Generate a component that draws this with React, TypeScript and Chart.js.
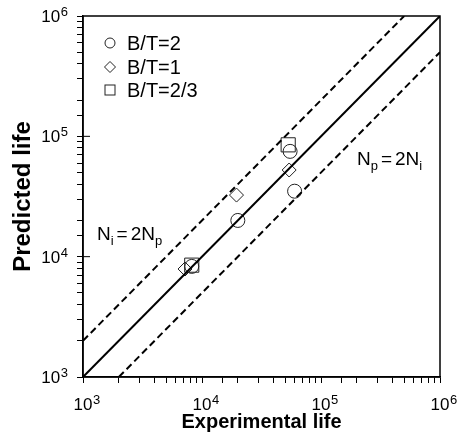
import React, { useEffect, useRef } from "react";
import { Chart, registerables } from "chart.js";

Chart.register(...registerables);

// ---- data ----
const circleX = [20000, 55000, 60000, 8200];
const circleY = [20000, 75000, 35000, 8300];
const diamondX = [7200, 19500, 54000];
const diamondY = [7900, 32500, 52500];
const squareX = [8200, 53000];
const squareY = [8500, 85000];
const seriesNames = ["B/T=2", "B/T=1", "B/T=2/3"];
const axisMin = 1000;
const axisMax = 1000000;
const tickBase = "10";
const tickExponents = [3, 4, 5, 6];
const tickLabels = ["3", "4", "5", "6"];
const xTitle = "Experimental life";
const yTitle = "Predicted life";
const noteLeft: [string, boolean][] = [["N", false], ["i", true], ["=", false], ["2N", false], ["p", true]];
const noteRight: [string, boolean][] = [["N", false], ["p", true], ["=", false], ["2N", false], ["i", true]];

const FONT = "'Liberation Sans', Arial, sans-serif";

function pts(xs: number[], ys: number[]) {
  return xs.map((x, i) => ({ x, y: ys[i] }));
}

const overlayPlugin = {
  id: "overlay",
  afterDraw(chart: any) {
    const { ctx, chartArea } = chart;
    const { left, top, right, bottom } = chartArea;
    const xs = chart.scales.x;
    const ys = chart.scales.y;
    ctx.save();
    // frame
    ctx.strokeStyle = "#000";
    ctx.lineWidth = 1.5;
    ctx.strokeRect(left, top, right - left, bottom - top);

    // tick labels
    ctx.fillStyle = "#000";
    tickExponents.forEach((e, i) => {
      const v = Math.pow(10, e);
      // x axis
      const px = xs.getPixelForValue(v);
      ctx.font = `17px ${FONT}`;
      ctx.textBaseline = "alphabetic";
      ctx.textAlign = "center";
      ctx.fillText(tickBase, px, bottom + 33);
      const bw = ctx.measureText(tickBase).width;
      ctx.font = `13px ${FONT}`;
      ctx.textAlign = "left";
      ctx.fillText(tickLabels[i], px + bw / 2 + 0.5, bottom + 27);
      // y axis
      const py = ys.getPixelForValue(v);
      ctx.font = `13px ${FONT}`;
      const sw = ctx.measureText(tickLabels[i]).width;
      const rx = left - 15;
      ctx.textAlign = "right";
      ctx.fillText(tickLabels[i], rx, py);
      ctx.font = `17px ${FONT}`;
      ctx.fillText(tickBase, rx - sw - 0.5, py + 6);
      // inward major tick on y axis
      if (e > 3 && e < 6) {
        ctx.lineWidth = 1;
        ctx.beginPath();
        ctx.moveTo(left, py);
        ctx.lineTo(left + 7, py);
        ctx.stroke();
      }
    });

    // axis titles
    ctx.font = `bold 20px ${FONT}`;
    ctx.textAlign = "center";
    ctx.textBaseline = "alphabetic";
    ctx.fillText(xTitle, (left + right) / 2, 428);
    ctx.save();
    ctx.translate(30, (top + bottom) / 2);
    ctx.rotate(-Math.PI / 2);
    ctx.font = `bold 24px ${FONT}`;
    ctx.fillText(yTitle, 0, 0);
    ctx.restore();

    // legend
    const lx = left + 27;
    const tx = left + 44;
    const rows = [top + 27, top + 51, top + 74];
    ctx.lineWidth = 1;
    ctx.strokeStyle = "#222";
    ctx.beginPath();
    ctx.arc(lx, rows[0], 5, 0, Math.PI * 2);
    ctx.stroke();
    ctx.beginPath();
    ctx.moveTo(lx - 5.5, rows[1]);
    ctx.lineTo(lx, rows[1] - 5.5);
    ctx.lineTo(lx + 5.5, rows[1]);
    ctx.lineTo(lx, rows[1] + 5.5);
    ctx.closePath();
    ctx.stroke();
    ctx.strokeRect(lx - 5, rows[2] - 5, 10, 10);

    ctx.fillStyle = "#000";
    ctx.font = `20px ${FONT}`;
    ctx.textBaseline = "middle";
    ctx.textAlign = "left";
    seriesNames.forEach((n, i) => ctx.fillText(n, tx, rows[i] + 1));

    // annotations
    const drawSub = (x: number, y: number, parts: [string, boolean][]) => {
      let cx = x;
      ctx.textBaseline = "alphabetic";
      ctx.textAlign = "left";
      for (const [t, sub] of parts) {
        if (t === "=") cx += 3;
        ctx.font = sub ? `13px ${FONT}` : `19px ${FONT}`;
        ctx.fillText(t, cx, sub ? y + 5 : y);
        cx += ctx.measureText(t).width;
        if (t === "=") cx += 3;
      }
    };
    drawSub(left + 14, top + 224, noteLeft);
    drawSub(left + 274, top + 149, noteRight);
    ctx.restore();
  },
};

export default function App() {
  const ref = useRef<HTMLCanvasElement | null>(null);
  useEffect(() => {
    if (!ref.current) return;
    const lineStyle = {
      type: "line" as const,
      borderColor: "#000",
      borderWidth: 2,
      pointRadius: 0,
      fill: false,
      showLine: true,
    };
    const scaleCommon = {
      type: "logarithmic",
      min: axisMin,
      max: axisMax,
      border: { display: true, color: "#000", width: 1.5 },
      grid: {
        drawOnChartArea: false,
        drawTicks: true,
        tickLength: 6,
        color: "#000",
        lineWidth: 1,
      },
      ticks: { display: false, autoSkip: false },
      title: { display: false },
    };
    const chart = new Chart(ref.current, {
      type: "scatter",
      data: {
        datasets: [
          {
            ...lineStyle,
            label: "1:1",
            data: [
              { x: axisMin, y: axisMin },
              { x: axisMax, y: axisMax },
            ],
          },
          {
            ...lineStyle,
            label: "Ni=2Np",
            borderDash: [7, 4],
            data: [
              { x: axisMin, y: axisMin * 2 },
              { x: axisMax / 2, y: axisMax },
            ],
          },
          {
            ...lineStyle,
            label: "Np=2Ni",
            borderDash: [7, 4],
            data: [
              { x: axisMin * 2, y: axisMin },
              { x: axisMax, y: axisMax / 2 },
            ],
          },
          {
            label: seriesNames[0],
            data: pts(circleX, circleY),
            pointStyle: "circle",
            pointRadius: 7,
            borderColor: "#222",
            backgroundColor: "rgba(0,0,0,0)",
            borderWidth: 1,
          },
          {
            label: seriesNames[1],
            data: pts(diamondX, diamondY),
            pointStyle: "rectRot",
            pointRadius: 7,
            borderColor: "#222",
            backgroundColor: "rgba(0,0,0,0)",
            borderWidth: 1,
          },
          {
            label: seriesNames[2],
            data: pts(squareX, squareY),
            pointStyle: "rect",
            pointRadius: 10,
            borderColor: "#222",
            backgroundColor: "rgba(0,0,0,0)",
            borderWidth: 1,
          },
        ] as any,
      },
      options: {
        animation: false,
        responsive: false,
        maintainAspectRatio: false,
        devicePixelRatio: 1,
        layout: { padding: { top: 16, right: 20, left: 0, bottom: 0 } },
        plugins: {
          legend: { display: false },
          tooltip: { enabled: false },
        },
        scales: {
          x: {
            ...scaleCommon,
            afterFit: (s: any) => {
              s.height = 63;
            },
          },
          y: {
            ...scaleCommon,
            afterFit: (s: any) => {
              s.width = 83;
            },
          },
        },
      } as any,
      plugins: [overlayPlugin],
    });
    return () => chart.destroy();
  }, []);
  return (
    <div style={{ position: "fixed", left: 0, top: 0, width: 460, height: 440, background: "#fff" }}>
      <canvas ref={ref} width={460} height={440} style={{ width: 460, height: 440 }} />
    </div>
  );
}
